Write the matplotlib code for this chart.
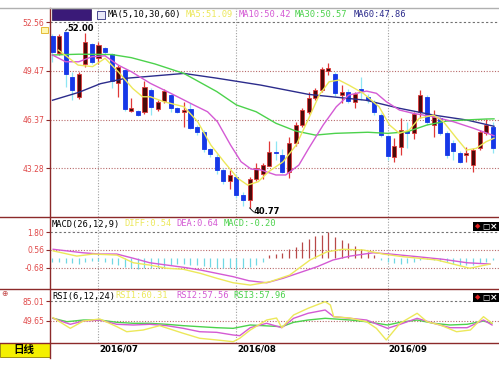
import matplotlib
matplotlib.use('Agg')
import matplotlib.pyplot as plt
from matplotlib.patches import Rectangle
from matplotlib.lines import Line2D

W, H = 499, 366

# ---- daily candles ----
opens = [51.69, 50.57, 51.95, 49.09, 47.82, 49.88, 51.15, 50.30, 50.90, 50.51,
         48.67, 49.52, 46.94, 46.94, 46.87, 48.25, 47.04, 47.55, 47.93, 47.09,
         46.87, 47.02, 45.92, 45.56, 44.51, 44.02, 43.18, 42.50, 42.75, 41.59,
         41.27, 42.60, 42.90, 43.45, 44.34, 44.12, 43.07, 44.86, 46.03, 46.87,
         47.72, 48.25, 49.47, 49.24, 47.93, 48.10, 47.51, 48.30, 47.79, 47.49,
         46.66, 45.33, 44.02, 44.65, 45.65, 45.50, 46.87, 47.82, 46.03, 46.45,
         45.50, 44.89, 44.25, 44.12, 43.49, 44.55, 45.50, 45.92]
highs = [51.80, 51.80, 52.00, 49.41, 49.41, 51.84, 51.20, 51.30, 51.00, 50.57,
         49.83, 49.60, 47.76, 46.98, 48.80, 48.40, 47.60, 48.30, 48.00, 47.15,
         47.47, 47.40, 46.00, 45.70, 44.60, 44.20, 43.30, 43.18, 42.90, 41.80,
         42.75, 43.60, 43.65, 45.00, 45.00, 44.50, 45.29, 46.20, 47.10, 48.10,
         48.40, 49.70, 49.94, 49.40, 48.56, 48.30, 48.14, 49.07, 48.00, 47.60,
         46.80, 45.40, 45.20, 46.47, 46.24, 46.87, 48.25, 47.93, 46.98, 46.60,
         45.65, 45.08, 44.40, 44.65, 44.55, 45.71, 46.41, 46.22]
lows = [50.00, 50.50, 48.46, 47.61, 47.70, 49.73, 49.90, 49.90, 50.50, 48.36,
        47.82, 46.90, 46.87, 46.60, 46.70, 46.66, 46.90, 47.40, 46.87, 46.80,
        45.92, 45.80, 45.40, 44.30, 44.00, 42.90, 42.30, 42.00, 41.40, 40.90,
        40.77, 42.50, 42.60, 43.40, 43.80, 43.00, 42.65, 44.70, 45.90, 46.70,
        47.60, 48.10, 49.20, 47.90, 47.40, 47.40, 47.10, 47.61, 47.40, 46.66,
        45.27, 43.80, 43.68, 44.13, 44.57, 45.14, 46.47, 46.03, 45.29, 45.40,
        43.94, 43.81, 43.60, 43.70, 43.07, 44.44, 45.39, 44.25]
closes = [50.64, 51.69, 49.24, 48.25, 49.24, 51.31, 50.04, 51.10, 50.64, 48.82,
          49.73, 47.04, 47.13, 46.66, 48.46, 47.19, 47.51, 48.18, 47.13, 46.87,
          46.98, 45.86, 45.60, 44.51, 44.17, 43.18, 42.48, 42.86, 41.59, 41.27,
          42.60, 43.28, 43.49, 44.30, 44.23, 43.07, 44.86, 46.03, 46.98, 47.72,
          48.25, 49.56, 49.62, 48.04, 48.14, 47.55, 47.97, 48.20, 47.61, 46.87,
          45.39, 44.06, 44.70, 45.71, 45.55, 46.72, 47.93, 46.24, 46.55, 45.50,
          44.12, 44.38, 43.70, 44.25, 44.44, 45.60, 46.03, 44.55]

# moving averages, sampled along the lines (candle index, price)
ma5_x = [0.9, 3.9, 6.1, 8, 10, 12.2, 13.7, 14.9, 16.9, 20, 22.1, 24.1, 26.1, 28.2,
         29.7, 31.3, 32.9, 35.1, 37.1, 39, 40.6, 42.1, 43.6, 45.1, 47.3, 49.7,
         51.3, 52.8, 54.3, 55.8, 58, 59.5, 61.5, 63, 64.5, 66, 67.2]
ma5_y = [50.78, 49.83, 49.73, 50.26, 49.41, 48.35, 47.82, 47.82, 47.51, 47.19,
         46.24, 44.76, 43.70, 42.65, 42.22, 42.43, 43.07, 43.70, 44.76, 46.45,
         47.93, 48.77, 48.88, 48.56, 48.04, 47.19, 46.03, 45.50, 45.71, 46.45,
         46.66, 46.24, 45.19, 44.44, 44.55, 44.97, 45.19]
ma10_x = [0, 2, 4, 6, 8, 10, 12, 14.9, 18, 21.5, 23.6, 25.1, 27.1, 28.7, 30.2,
          31.7, 34, 35.5, 37.5, 39, 41.2, 43.2, 45.1, 47.8, 49.3, 50.8, 52.8,
          54.9, 58, 61, 64.1, 67.2]
ma10_y = [50.47, 50.04, 50.04, 50.36, 50.42, 49.83, 49.41, 48.67, 48.04, 47.30,
          46.87, 46.24, 44.76, 43.70, 43.24, 43.18, 42.86, 42.86, 43.49, 44.55,
          46.03, 47.19, 47.93, 48.18, 48.04, 47.51, 46.98, 46.77, 46.55, 46.24,
          45.82, 45.35]
ma30_x = [0, 4, 9, 12, 15.6, 20, 25, 28, 31, 34, 37, 40, 43, 48, 51, 54, 57,
          60, 63, 66, 67.2]
ma30_y = [50.47, 50.52, 50.50, 50.30, 49.90, 49.30, 48.15, 47.30, 46.87, 46.14,
          45.65, 45.39, 45.50, 45.57, 45.50, 45.60, 46.03, 46.28, 46.35, 46.41,
          46.42]
ma60_x = [0, 4, 7.3, 11.1, 15.7, 20, 25, 31.7, 39, 47.7, 52.8, 58, 63, 67.2]
ma60_y = [47.60, 48.10, 48.65, 48.99, 49.15, 49.30, 49.00, 48.56, 47.97, 47.60,
          47.09, 46.66, 46.35, 45.95]

# MACD(26,12,9)
macd_bar = [-0.30, -0.30, -0.35, -0.35, -0.40, -0.30, -0.20, -0.20, -0.25, -0.40,
            -0.50, -0.60, -0.70, -0.75, -0.70, -0.70, -0.65, -0.60, -0.50, -0.40,
            -0.40, -0.45, -0.50, -0.55, -0.60, -0.65, -0.70, -0.70, -0.75, -0.70,
            -0.60, -0.50, -0.30, 0.20, 0.30, 0.35, 0.60, 0.80, 1.10, 1.30,
            1.50, 1.60, 1.80, 1.45, 1.25, 1.05, 0.85, 0.60, 0.45, 0.20,
            -0.15, -0.25, -0.35, -0.40, -0.35, -0.30, -0.10, -0.05, -0.10, -0.20,
            -0.30, -0.40, -0.45, -0.50, -0.45, -0.35, -0.25, -0.10]
diff_x = [0.1, 3.7, 6.2, 9.8, 12.3, 14.8, 17.4, 19.9, 22.5, 25, 27.5, 30.1, 33.1,
          36.1, 39.2, 41.8, 44.2, 47.3, 50.3, 53.3, 58.5, 61.6, 63.5, 66.6]
diff_y = [0.50, 0.14, 0.28, 0.21, -0.32, -0.48, -0.70, -0.77, -1.05, -1.39, -1.70,
          -1.86, -1.63, -1.17, -0.13, 0.44, 0.61, 0.56, 0.28, 0.10, -0.13, -0.48,
          -0.70, -0.41]
dea_x = [0.1, 4.6, 7.2, 9.8, 12.3, 14.8, 17.4, 19.9, 22.5, 25, 27.5, 29.9, 32.6,
         35.1, 40.3, 42.7, 45.3, 48.8, 51.4, 55.5, 59.4, 63.1, 66.6]
dea_y = [0.61, 0.37, 0.28, 0.28, -0.01, -0.32, -0.48, -0.63, -0.82, -1.05, -1.28,
         -1.56, -1.70, -1.39, -0.59, -0.13, 0.14, 0.37, 0.28, 0.10, -0.08, -0.32,
         -0.41]

# RSI(6,12,24)
rsi1_x = [0.1, 2.7, 4.7, 7.2, 9.8, 11.3, 13.8, 16.3, 19.9, 22.4, 25, 27.5, 28.5,
          30.1, 32.6, 34.1, 34.9, 36.7, 38.9, 41.5, 42.3, 42.8, 45.3, 47.8, 49.3,
          50.8, 52.9, 55.5, 57, 59, 61.5, 63.6, 65.6, 66.9]
rsi1_y = [55.5, 36.7, 49.6, 53.2, 39.6, 30.7, 33.7, 41.4, 27.9, 19.1, 16.1, 13.1,
          19.1, 33.7, 51.4, 54.9, 37.8, 60.3, 72.1, 83.8, 77.9, 57.3, 54.9, 48.4,
          36.7, 16.1, 45.6, 63.3, 48.4, 42.6, 30.7, 33.7, 57.3, 45.6]
rsi2_x = [0.1, 2.7, 4.7, 7.2, 9.8, 12.3, 14.8, 17.4, 19.9, 22.4, 25, 27.5, 28.5,
          30.1, 32.6, 34.9, 36.7, 38.9, 41.5, 42.8, 45.3, 47.8, 51, 52.9, 55.5,
          58, 60.5, 63.1, 65.6, 66.9]
rsi2_y = [54.4, 43.8, 49.6, 51.4, 43.8, 42.6, 43.8, 41.4, 36.7, 30.7, 29.6, 24.9,
          23.7, 37.8, 45.6, 37.8, 54.4, 63.3, 69.1, 57.3, 54.4, 51.4, 36.7, 43.8,
          54.4, 45.6, 37.8, 37.8, 51.4, 42.6]
rsi3_x = [0.1, 2.2, 4.7, 7.2, 9.8, 12.3, 14.8, 17.4, 19.9, 22.4, 25, 27.5, 30.1,
          34.9, 36.7, 38.9, 41.5, 45.3, 47.8, 51, 52.9, 55.5, 58, 60.5, 63.1,
          65.6, 66.9]
rsi3_y = [54.4, 48.4, 51.4, 51.4, 47.3, 45.6, 45.6, 43.8, 41.4, 39.6, 37.8, 36.7,
          42.6, 39.6, 47.3, 51.4, 54.4, 51.4, 48.4, 42.6, 47.3, 51.4, 45.6, 42.6,
          43.8, 49.6, 45.6]

price_ticks = [52.56, 49.47, 46.37, 43.28]
macd_ticks = [1.80, 0.56, -0.68]
rsi_ticks = [85.01, 49.65]
month_idx = [7, 28, 51]
month_labels = ['2016/07', '2016/08', '2016/09']

# colours
AXIS = '#8c2a2a'
LBL = '#e04848'
GRID = '#b86a6a'
UP_BODY = '#4a0a0a'
UP_EDGE = '#e03838'
DN_BODY = '#1638e8'
DN_WICK = '#8ee6f4'
C_MA5 = '#ece85a'
C_MA10 = '#d45ad4'
C_MA30 = '#4cd24c'
C_MA60 = '#2c2c8c'
MONO = 'DejaVu Sans Mono'

XL = (-0.38, 67.96)


def px_axes(fig, x0, y0, x1, y1):
    ax = fig.add_axes([x0 / W, 1 - y1 / H, (x1 - x0) / W, (y1 - y0) / H])
    ax.set_xlim(*XL)
    for s in ax.spines.values():
        s.set_visible(False)
    ax.set_xticks([])
    ax.patch.set_alpha(0)
    return ax


def style_yaxis(ax, ticks, fmt='{:.2f}'):
    ax.set_yticks(ticks)
    ax.set_yticklabels([fmt.format(t) for t in ticks])
    ax.tick_params(axis='y', direction='out', length=3, width=0.8, color=AXIS,
                   labelsize=5.5, labelcolor=LBL, pad=1)


def ftext(fig, x, y, s, **kw):
    kw.setdefault('va', 'center')
    kw.setdefault('ha', 'left')
    return fig.text(x / W, 1 - y / H, s, **kw)


fig = plt.figure(figsize=(W / 100, H / 100), dpi=100)
fig.patch.set_facecolor('white')

# ---------------- main price panel ----------------
ax = px_axes(fig, 50, 8, 499, 217)
ax.set_ylim(40.195, 53.45)
style_yaxis(ax, price_ticks)
ax.axhline(price_ticks[0], color='#707070', ls=(0, (2, 2)), lw=0.8)
for t in price_ticks[1:]:
    ax.axhline(t, color=GRID, ls=(0, (1, 1.5)), lw=0.8)
for m in month_idx:
    ax.axvline(m, color='#a0a0a0', ls=(0, (1, 1.5)), lw=0.8)

bw = 0.62
for i in range(len(opens)):
    o, h, l, c = opens[i], highs[i], lows[i], closes[i]
    up = c >= o
    wick = UP_EDGE if up else DN_WICK
    ax.vlines(i, l, h, color=wick, lw=0.9, zorder=2)
    body_h = max(abs(c - o), 0.04)
    ax.add_patch(Rectangle((i - bw / 2, min(o, c)), bw, body_h,
                           facecolor=UP_BODY if up else DN_BODY,
                           edgecolor=UP_EDGE if up else DN_BODY,
                           lw=0.6, zorder=3))

ax.plot(ma60_x, ma60_y, color=C_MA60, lw=1.0, zorder=4)
ax.plot(ma30_x, ma30_y, color=C_MA30, lw=1.0, zorder=4)
ax.plot(ma10_x, ma10_y, color=C_MA10, lw=1.0, zorder=4)
ax.plot(ma5_x, ma5_y, color=C_MA5, lw=1.0, zorder=4)

# high / low markers
hi, lo = max(highs), min(lows)
ax.plot([2, 2.25], [hi, hi + 0.12], color='black', lw=0.6)
ax.text(2.3, hi + 0.15, '52.00', fontsize=6, fontweight='bold', color='black',
        va='center', ha='left')
ax.plot([30, 30.6], [lo, lo - 0.25], color='black', lw=0.6)
ax.text(30.6, lo - 0.25, '40.77', fontsize=6, fontweight='bold', color='black',
        va='center', ha='left')

# header of main panel
fig.patches.append(Rectangle((52 / W, 1 - 20 / H), 39 / W, 11 / H,
                             transform=fig.transFigure, facecolor='#3a1a78',
                             edgecolor='#241050', lw=0.5))
fig.patches.append(Rectangle((97 / W, 1 - 19 / H), 8 / W, 8 / H,
                             transform=fig.transFigure, facecolor='#e8e8f8',
                             edgecolor='#303080', lw=0.6))
hdr = [(108, 'MA(5,10,30,60)', 'black'), (186, 'MA5:51.09', C_MA5),
       (239, 'MA10:50.42', C_MA10), (295, 'MA30:50.57', C_MA30),
       (354, 'MA60:47.86', C_MA60)]
for x, s, c in hdr:
    ftext(fig, x, 14.5, s, family=MONO, fontsize=6.3, color=c)

# ---------------- MACD panel ----------------
ax2 = px_axes(fig, 50, 217, 499, 289)
ax2.set_ylim(-2.13, 2.836)
style_yaxis(ax2, macd_ticks)
ax2.axhline(macd_ticks[0], color='#707070', ls=(0, (2, 2)), lw=0.8)
for t in macd_ticks[1:]:
    ax2.axhline(t, color=GRID, ls=(0, (1, 1.5)), lw=0.8)
for m in month_idx:
    ax2.axvline(m, color='#a0a0a0', ls=(0, (1, 1.5)), lw=0.8)
for i, v in enumerate(macd_bar):
    ax2.vlines(i, 0, v, color='#b84848' if v > 0 else '#70d8e4', lw=0.9)
ax2.plot(dea_x, dea_y, color=C_MA10, lw=1.0)
ax2.plot(diff_x, diff_y, color=C_MA5, lw=1.0)

hdr2 = [(52, 'MACD(26,12,9)', 'black'), (124, 'DIFF:0.54', C_MA5),
        (176, 'DEA:0.64', C_MA10), (224, 'MACD:-0.20', C_MA30)]
for x, s, c in hdr2:
    ftext(fig, x, 224, s, family=MONO, fontsize=6.3, color=c)

# ---------------- RSI panel ----------------
ax3 = px_axes(fig, 50, 289, 499, 343)
ax3.set_ylim(10.75, 106.23)
style_yaxis(ax3, rsi_ticks)
ax3.axhline(rsi_ticks[0], color='#707070', ls=(0, (2, 2)), lw=0.8)
ax3.axhline(rsi_ticks[1], color=GRID, ls=(0, (1, 1.5)), lw=0.8)
for m in month_idx:
    ax3.axvline(m, color='#a0a0a0', ls=(0, (1, 1.5)), lw=0.8)
ax3.plot(rsi3_x, rsi3_y, color=C_MA30, lw=1.0)
ax3.plot(rsi2_x, rsi2_y, color=C_MA10, lw=1.0)
ax3.plot(rsi1_x, rsi1_y, color=C_MA5, lw=1.0)

hdr3 = [(52, 'RSI(6,12,24)', 'black'), (115, 'RSI1:60.31', C_MA5),
        (176, 'RSI2:57.56', C_MA10), (233, 'RSI3:57.96', C_MA30)]
for x, s, c in hdr3:
    ftext(fig, x, 296, s, family=MONO, fontsize=6.3, color=c)

# little window buttons on the indicator panels
for yb in (222, 293):
    fig.patches.append(Rectangle((473 / W, 1 - (yb + 9) / H), 26 / W, 9 / H,
                                 transform=fig.transFigure, facecolor='black'))
    ftext(fig, 475, yb + 4.5, '◆', fontsize=5, color='#e02020')
    ftext(fig, 482, yb + 4.5, '□', fontsize=5.5, color='white')
    ftext(fig, 490, yb + 4.5, '×', fontsize=6.5, color='white', fontweight='bold')

# ---------------- date strip ----------------
ax4 = px_axes(fig, 50, 343, 499, 366)
ax4.set_ylim(0, 1)
ax4.set_yticks([])
for m, lab in zip(month_idx, month_labels):
    ax4.text(m + 0.1, 0.76, lab, fontsize=6.2, fontweight='bold', color='black',
             ha='left', va='center')

fig.patches.append(Rectangle((0, 1 - 357 / H), 50 / W, 14 / H,
                             transform=fig.transFigure, facecolor='#f4f000',
                             edgecolor='#908000', lw=0.6))
ftext(fig, 24, 350, '日线', ha='center', fontsize=7.6, fontweight='bold',
      family=['Noto Sans CJK SC', 'DejaVu Sans'], color='black')

# frame lines
frame = [((50, 50), (8, 358)), ((0, 499), (8, 8)), ((0, 499), (217, 217)),
         ((0, 499), (289, 289)), ((0, 499), (343, 343))]
for xs, ys in frame:
    fig.lines.append(Line2D([x / W for x in xs], [1 - y / H for y in ys],
                            transform=fig.transFigure, color=AXIS, lw=1.0))
fig.lines[1].set_color('#b0b0b0')

# small marker symbols at the left edge
ftext(fig, 1, 293, '⊕', fontsize=5.5, color='#c04040')
fig.patches.append(Rectangle((41 / W, 1 - 33 / H), 7 / W, 6 / H,
                             transform=fig.transFigure, facecolor='#fff8b0',
                             edgecolor='#e0b020', lw=0.6))

fig.savefig('out.png', dpi=100)
